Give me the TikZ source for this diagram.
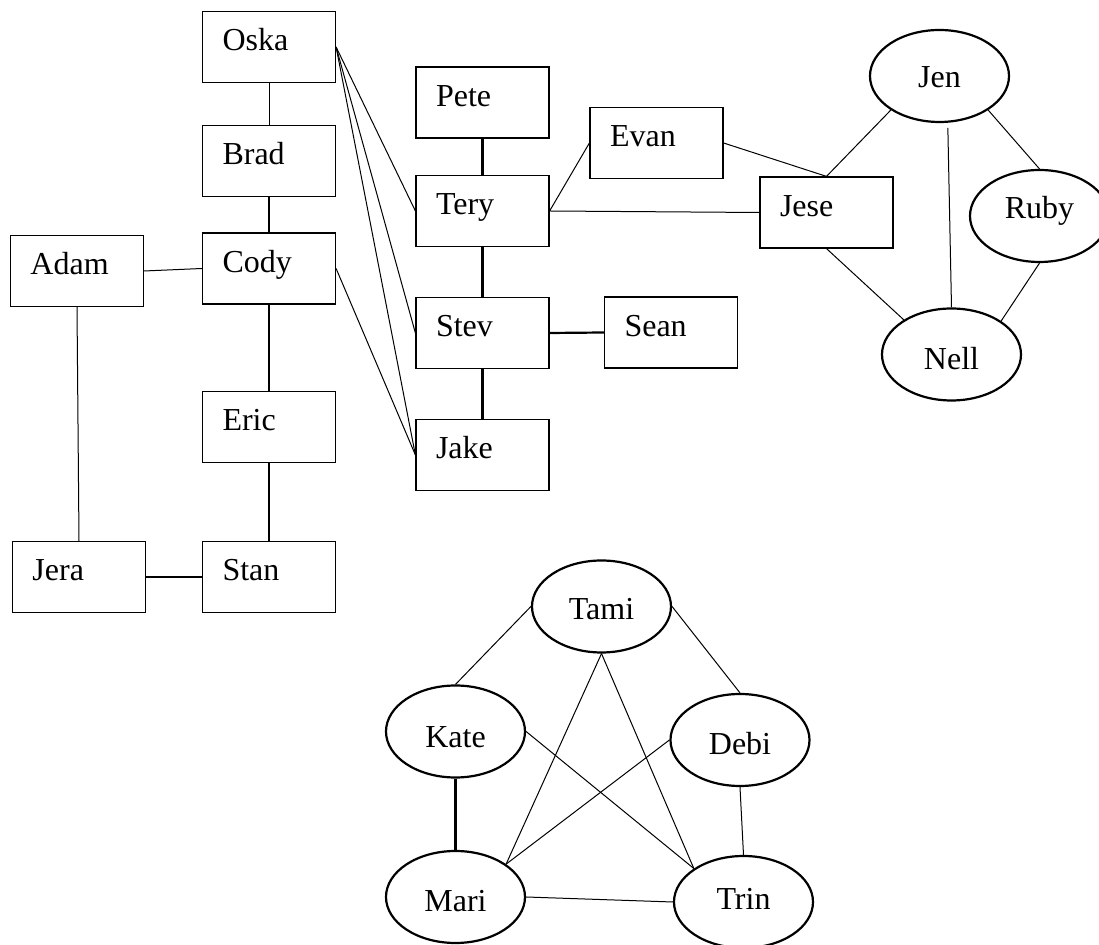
\documentclass[tikz,border=0pt]{standalone}
\usepackage{fontspec}
\setmainfont{Liberation Serif}
\usetikzlibrary{shapes.geometric}
\begin{document}
\begin{tikzpicture}[x=0.5pt,y=-0.5pt,
    person/.style={draw,rectangle,line width=0.6pt,minimum width=66.5pt,minimum height=35.5pt,
      inner xsep=10pt,inner ysep=0pt,text width=46.5pt,align=left,text height=4pt,text depth=0pt,
      font=\fontsize{16}{19}\selectfont},
    friend/.style={draw,ellipse,line width=1.1pt,minimum width=69.5pt,minimum height=46pt,
      inner sep=0pt,text height=15pt,text depth=0pt,font=\fontsize{16}{19}\selectfont},
    link/.style={line width=0.5pt},
    tie/.style={line width=1.1pt}]
      \useasboundingbox (0,0) rectangle (1099,945);
      \clip (0,0) rectangle (1099,945);
      \draw
        (269,47) node[person] (Oska){Oska}
        (269,161) node[person] (Brad){Brad}
        (269,268.5) node[person] (Cody){Cody}
        (77,271) node[person] (Adam){Adam}
        (269,427) node[person] (Eric){Eric}
        (79,577) node[person] (Jera){Jera}
        (269,577) node[person] (Stan){Stan}
        (482.5,102.5) node[person] (Pete){Pete}
        (482.5,211) node[person] (Tery){Tery}
        (482.5,333) node[person] (Stev){Stev}
        (482.5,455) node[person] (Jake){Jake}
        (671,332.5) node[person] (Sean){Sean}
        (656.5,143) node[person] (Evan){Evan}
        (826.5,212.5) node[person] (Jese){Jese};
      \draw
        (939.5,76) node[friend,text height=12pt] (Jen){Jen}
        (1039.5,216) node[friend,text height=3pt] (Ruby){Ruby}
        (951.5,354.5) node[friend,text height=15.5pt] (Nell){Nell}
        (601.5,606.5) node[friend,text height=13.5pt] (Tami){Tami}
        (455.5,731.5) node[friend,text height=16.5pt] (Kate){Kate}
        (740,740) node[friend] (Debi){Debi}
        (455.5,897) node[friend] (Mari){Mari}
        (743.5,902) node[friend,text height=8pt] (Trin){Trin};
      \begin{scope}[-]
        \draw[link] (Oska.south) to (Brad.north);
        \draw[tie] (Brad.south) to (Cody.north);
        \draw[tie] (Cody.south) to (Eric.north);
        \draw[tie] (Eric.south) to (Stan.north);
        \draw[link] (Adam.east) to (Cody.west);
        \draw[link] (Adam.south) to (Jera.north);
        \draw[tie] (Jera.east) to (Stan.west);
        \draw[link] (Oska.east) to (Tery.west);
        \draw[link] (Oska.east) to (Stev.west);
        \draw[link] (Oska.east) to (Jake.west);
        \draw[link] (Cody.east) to (Jake.west);
        \draw[tie] (Pete.south) to (Tery.north);
        \draw[tie] (Tery.south) to (Stev.north);
        \draw[tie] (Stev.south) to (Jake.north);
        \draw[tie] (Stev.east) to (Sean.west);
        \draw[link] (Tery.east) to (Evan.west);
        \draw[link] (Tery.east) to (Jese.west);
        \draw[link] (Evan.east) to (Jese.north);
        \draw[link] (Jese.north) to (Jen.215);
        \draw[link] (Jese.south) to (Nell.144);
        \draw[link,shorten <=2.5pt] (Jen.-80) to (Nell.north);
        \draw[link] (Jen.-35) to (Ruby.north);
        \draw[link] (Ruby.south) to (Nell.34);
        \draw[link] (Tami.west) to (Kate.north);
        \draw[link] (Tami.east) to (Debi.north);
        \draw[link] (Tami.south) to (Mari.33);
        \draw[link] (Tami.south) to (Trin.146);
        \draw[tie] (Kate.south) to (Mari.north);
        \draw[link] (Kate.east) to (Trin.146);
        \draw[link] (Debi.west) to (Mari.33);
        \draw[link] (Debi.south) to (Trin.north);
        \draw[link] (Mari.east) to (Trin.west);
      \end{scope}
    \end{tikzpicture}
\end{document}
